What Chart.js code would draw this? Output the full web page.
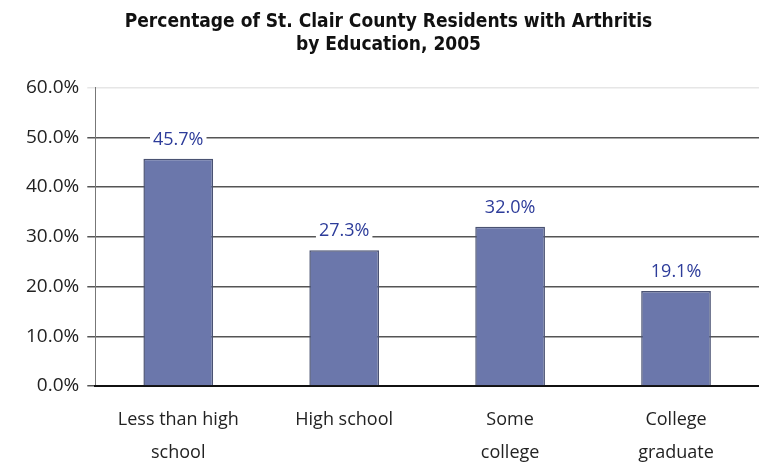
<!DOCTYPE html>
<html>
<head>
<meta charset="utf-8">
<script src="https://cdn.jsdelivr.net/npm/chart.js@4"></script>
<style>
  html, body { margin: 0; padding: 0; background: #fff; }
  #wrap { width: 759px; height: 465px; position: relative; }
</style>
</head>
<body>
<div id="wrap"><canvas id="chart"></canvas></div>
<script>
// chart data
const categories = [['Less than high', 'school'], 'High school', ['Some', 'college'], ['College', 'graduate']];
const arthritisPct = [45.7, 27.3, 32.0, 19.1];
const yTicks = [0, 10, 20, 30, 40, 50, 60];

// draws the value above each bar
const barLabels = {
    id: 'barLabels',
    afterDatasetsDraw: function(chart) {
        const ctx = chart.ctx;
        const meta = chart.getDatasetMeta(0);
        ctx.save();
        ctx.font = '18px "Open Sans"';
        ctx.textAlign = 'center';
        ctx.textBaseline = 'middle';
        meta.data.forEach((bar, i) => {
            const txt = arthritisPct[i].toFixed(1) + '%';
            const w = ctx.measureText(txt).width;
            ctx.fillStyle = '#fff';
            ctx.fillRect(bar.x - w / 2 - 3, bar.y - 30, w + 6, 22);
            ctx.fillStyle = '#2d3c9a';
            ctx.fillText(txt, bar.x, bar.y - 19);
        });
        ctx.restore();
    }
};

new Chart(document.getElementById('chart'), {
    type: 'bar',
    data: {
        labels: categories,
        datasets: [{
            data: arthritisPct,
            backgroundColor: '#6b77ab',
            borderColor: '#4a5272',
            borderWidth: 1.5,
            barPercentage: 0.42,
            categoryPercentage: 1
        }]
    },
    options: {
        responsive: true,
        maintainAspectRatio: false,
        animation: false,
        layout: { padding: { left: 18, right: 0, top: 11, bottom: 0 } },
        plugins: {
            legend: { display: false },
            tooltip: { enabled: false },
            title: {
                display: true,
                text: ['Percentage of St. Clair County Residents with Arthritis', 'by Education, 2005'],
                color: '#111',
                font: { family: '"DejaVu Sans Condensed", "DejaVu Sans"', size: 19, weight: 'bold' },
                padding: { top: 0, bottom: 31 },
                lineHeight: 1.7
            }
        },
        scales: {
            y: {
                min: 0,
                max: 60,
                afterBuildTicks: axis => { axis.ticks = yTicks.map(v => ({ value: v })); },
                ticks: {
                    color: '#222',
                    font: { family: '"Open Sans"', size: 19 },
                    padding: 8,
                    callback: v => v.toFixed(1) + '%'
                },
                grid: {
                    color: ctx => ctx.tick && ctx.tick.value === 60 ? '#e6e6e6' : '#555',
                    lineWidth: 1.5,
                    tickLength: 8
                },
                border: { color: '#777', width: 1 }
            },
            x: {
                afterFit: scale => { scale.height = 79; },
                ticks: {
                    color: '#222',
                    font: { family: '"Open Sans"', size: 18, lineHeight: 1.8 },
                    padding: 10
                },
                grid: { display: false },
                border: { color: '#111', width: 2 }
            }
        }
    },
    plugins: [barLabels]
});
</script>
</body>
</html>
